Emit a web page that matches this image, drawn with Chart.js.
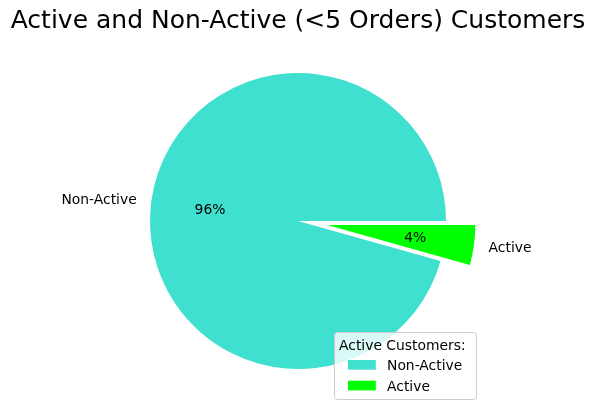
<!DOCTYPE html>
<html>
<head>
<meta charset="utf-8">
<script src="https://cdn.jsdelivr.net/npm/chart.js@4/dist/chart.umd.min.js"></script>
<style>
html,body{margin:0;padding:0;background:#fff;}
#wrap{width:595px;height:416px;position:relative;}
</style>
</head>
<body>
<div id="wrap"><canvas id="c" width="595" height="416"></canvas></div>
<script>
const categories = ["Non-Active", "Active"];
const shares = [95.65, 4.35];
const sliceColors = ["#40E0D0", "#00FF00"];
const explodeFrac = [0, 0.2];
const chartTitle = "Active and Non-Active (<5 Orders) Customers";
const legendTitle = "Active Customers:";

const FONT = "'DejaVu Sans', sans-serif";
const FS = 13.89;
const R = 148;
const TY = 1.5; // text vertical nudge (matplotlib centre vs canvas middle)

function explodeShift(arc, i) {
  const p = arc.getProps(['startAngle', 'endAngle', 'outerRadius'], true);
  const mid = (p.startAngle + p.endAngle) / 2;
  const d = (explodeFrac[i] || 0) * p.outerRadius;
  return { dx: d * Math.cos(mid), dy: d * Math.sin(mid), mid: mid };
}

const explodePlugin = {
  id: 'explode',
  beforeDatasetDraw(chart) {
    const meta = chart.getDatasetMeta(0);
    meta.data.forEach((arc, i) => {
      if (arc._wrapped) return;
      const orig = Object.getPrototypeOf(arc).draw;
      arc.draw = function (ctx) {
        const s = explodeShift(this, i);
        ctx.save();
        ctx.translate(s.dx, s.dy);
        orig.call(this, ctx);
        ctx.restore();
      };
      arc._wrapped = true;
    });
  }
};

const labelPlugin = {
  id: 'pieLabels',
  afterDatasetsDraw(chart) {
    const ctx = chart.ctx;
    const meta = chart.getDatasetMeta(0);
    const total = shares.reduce((a, b) => a + b, 0);
    ctx.save();
    ctx.fillStyle = '#000';
    ctx.font = FS + 'px ' + FONT;
    ctx.textBaseline = 'middle';
    meta.data.forEach((arc, i) => {
      const p = arc.getProps(['x', 'y', 'outerRadius'], true);
      const s = explodeShift(arc, i);
      const mid = s.mid;
      const cx = p.x + s.dx;
      const cy = p.y + s.dy;
      const r = p.outerRadius;
      ctx.textAlign = 'center';
      const pct = Math.round(shares[i] / total * 100) + '%';
      ctx.fillText(pct, cx + 0.6 * r * Math.cos(mid), cy + 0.6 * r * Math.sin(mid) + TY);
      const lx = cx + 1.1 * r * Math.cos(mid);
      const ly = cy + 1.1 * r * Math.sin(mid);
      ctx.textAlign = Math.cos(mid) < 0 ? 'right' : 'left';
      ctx.fillText(chart.data.labels[i], lx, ly + TY);
    });
    ctx.restore();
  }
};

const legendPlugin = {
  id: 'boxLegend',
  afterDraw(chart) {
    const ctx = chart.ctx;
    const x0 = 334, y0 = 332, w = 142, h = 67;
    ctx.save();
    ctx.beginPath();
    ctx.roundRect(x0 + 0.5, y0 + 0.5, w, h, 3);
    ctx.fillStyle = 'rgba(255,255,255,0.8)';
    ctx.fill();
    ctx.strokeStyle = '#cccccc';
    ctx.lineWidth = 1;
    ctx.stroke();
    ctx.fillStyle = '#000';
    ctx.font = FS + 'px ' + FONT;
    ctx.textBaseline = 'middle';
    ctx.textAlign = 'left';
    ctx.fillText(legendTitle, 339, 345 + TY);
    const bg = chart.data.datasets[0].backgroundColor;
    chart.data.labels.forEach((lab, i) => {
      const yc = 365 + i * 20.7;
      ctx.fillStyle = bg[i];
      ctx.fillRect(348, yc - 5, 27.8, 9.7);
      ctx.fillStyle = '#000';
      ctx.fillText(lab, 387, yc + TY);
    });
    ctx.restore();
  }
};

new Chart(document.getElementById('c'), {
  type: 'pie',
  data: {
    labels: categories,
    datasets: [{
      data: shares,
      backgroundColor: sliceColors,
      borderWidth: 0,
      offset: 0,
      hoverOffset: 0
    }]
  },
  options: {
    responsive: false,
    animation: false,
    devicePixelRatio: 1,
    rotation: 90 + 360 * shares[1] / (shares[0] + shares[1]),
    radius: R,
    layout: { padding: { left: 1, right: 0, top: 0, bottom: 10 } },
    plugins: {
      legend: { display: false },
      tooltip: { enabled: false },
      title: {
        display: true,
        text: chartTitle,
        color: '#000',
        font: { family: FONT, size: 25, weight: 'normal', lineHeight: 1.2 },
        padding: { top: 6, bottom: 0 }
      }
    }
  },
  plugins: [explodePlugin, labelPlugin, legendPlugin]
});
</script>
</body>
</html>
